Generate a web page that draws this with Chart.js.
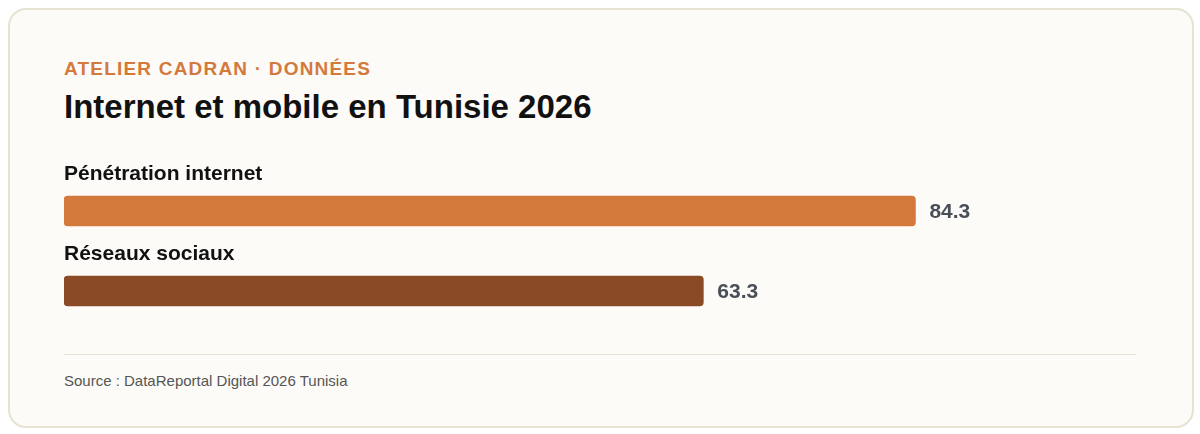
<!DOCTYPE html>
<html><head><meta charset="utf-8">
<script src="https://cdn.jsdelivr.net/npm/chart.js@4"></script>
<style>
html,body{margin:0;padding:0;background:#fff;width:1200px;height:434px;overflow:hidden;font-family:"Liberation Sans",Arial,sans-serif}
.card{position:absolute;left:8px;top:8px;width:1182px;height:416px;border:2px solid #e6e3d1;border-radius:18px;background:#fcfbf7}
.kick{position:absolute;left:64px;top:58px;font-size:19px;font-weight:bold;color:#d4793c;letter-spacing:1.2px}
.title{position:absolute;left:64px;top:88px;font-size:33px;font-weight:bold;color:#111}
.wrap{position:absolute;left:64px;top:155px;width:1072px;height:180px}
.sep{position:absolute;left:64px;top:354px;width:1072px;height:1px;background:#e6e3d1}
.src{position:absolute;left:64px;top:372px;font-size:15px;color:#555}
</style></head><body>
<div class="card"></div>
<div class="kick">ATELIER CADRAN · DONNÉES</div>
<div class="title">Internet et mobile en Tunisie 2026</div>
<div class="wrap"><canvas id="c"></canvas></div>
<div class="sep"></div>
<div class="src">Source : DataReportal Digital 2026 Tunisia</div>
<script>
const categories=["Pénétration internet","Réseaux sociaux"];
const values=[84.3,63.3];
const colors=["#d4793c","#8b4a26"];
const labelPlugin={id:"lbl",afterDatasetsDraw(ch){
 const ctx=ch.ctx,x=ch.scales.x,y=ch.scales.y;
 ctx.save();
 categories.forEach((c,i)=>{
  const yc=y.getPixelForValue(i);
  ctx.font="bold 21px 'Liberation Sans',Arial";ctx.fillStyle="#111";ctx.textBaseline="middle";ctx.textAlign="left";
  ctx.fillText(c,x.left,yc-37);
  ctx.font="bold 21px 'Liberation Sans',Arial";ctx.fillStyle="#4a4f57";
  ctx.fillText(values[i].toFixed(1),x.getPixelForValue(values[i])+14,yc+1);
 });
 ctx.restore();}};
new Chart(document.getElementById("c"),{type:"bar",
 data:{labels:categories,datasets:[{data:values,backgroundColor:colors,barThickness:30,borderRadius:4,borderSkipped:false}]},
 options:{indexAxis:"y",responsive:true,maintainAspectRatio:false,animation:false,
  layout:{padding:{left:0,right:62,top:16,bottom:4}},
  plugins:{legend:{display:false},tooltip:{enabled:false}},
  scales:{x:{min:0,max:100,display:false},y:{display:false}}},
 plugins:[labelPlugin]});
</script></body></html>
